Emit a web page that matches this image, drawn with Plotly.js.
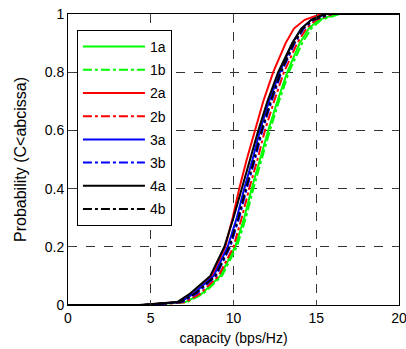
<!DOCTYPE html>
<html>
<head>
<meta charset="utf-8">
<script src="https://cdn.plot.ly/plotly-3.0.1.min.js"></script>
<style>html,body{margin:0;padding:0;background:#fff;}#chart{width:406px;height:349px;}</style>
</head>
<body>
<div id="chart"></div>
<script>
// CDF probability levels
const probLevels = [0, 0.01, 0.04, 0.1, 0.2, 0.3, 0.4, 0.5, 0.6, 0.7, 0.8, 0.9, 0.95, 0.98, 1];
// capacity (bps/Hz) at each probability level, per series
const cap1a = [4.8, 7.1, 8.1, 9.2, 10.1, 10.65, 11.1, 11.6, 12.1, 12.65, 13.25, 14.0, 14.55, 15.15, 16.2];
const cap1b = [4.7, 7.2, 8.2, 9.3, 10.2, 10.75, 11.2, 11.7, 12.2, 12.75, 13.35, 14.15, 14.7, 15.3, 16.4];
const cap2a = [4.5, 6.7, 7.6, 8.7, 9.5, 9.95, 10.35, 10.8, 11.3, 11.8, 12.4, 13.15, 13.65, 14.3, 15.3];
const cap2b = [5.0, 7.1, 8.0, 9.1, 10.0, 10.5, 10.95, 11.45, 11.9, 12.45, 13.05, 13.85, 14.4, 15.0, 16.0];
const cap3a = [4.6, 6.8, 7.6, 8.8, 9.65, 10.2, 10.65, 11.15, 11.6, 12.15, 12.8, 13.55, 14.1, 14.7, 15.6];
const cap3b = [4.6, 6.9, 7.8, 8.95, 9.8, 10.35, 10.8, 11.3, 11.75, 12.3, 12.9, 13.7, 14.25, 14.85, 15.9];
const cap4a = [4.3, 6.6, 7.4, 8.6, 9.45, 10.0, 10.5, 11.0, 11.5, 12.05, 12.7, 13.55, 14.1, 14.7, 15.5];
const cap4b = [4.5, 6.8, 7.7, 8.9, 9.75, 10.3, 10.75, 11.25, 11.7, 12.25, 12.85, 13.65, 14.2, 14.8, 15.8];
const seriesNames = ['1a', '1b', '2a', '2b', '3a', '3b', '4a', '4b'];
const xTicks = [0, 5, 10, 15, 20];
const yTicks = [0, 0.2, 0.4, 0.6, 0.8, 1];
const yTickText = ['0', '0.2', '0.4', '0.6', '0.8', '1'];

const seriesData = [cap1a, cap1b, cap2a, cap2b, cap3a, cap3b, cap4a, cap4b];
const colors = ['#00ff00', '#00ff00', '#ff0000', '#ff0000', '#0000ff', '#0000ff', '#000000', '#000000'];
const dashes = ['solid', 'dashdot', 'solid', 'dashdot', 'solid', 'dashdot', 'solid', 'dashdot'];

const traces = seriesData.map((xs, i) => ({
  x: [0].concat(xs).concat([20]),
  y: [0].concat(probLevels).concat([1]),
  type: 'scatter',
  mode: 'lines',
  name: seriesNames[i],
  legendgroup: 'g' + i,
  line: {color: colors[i], width: 2, dash: dashes[i]}
}));

const font = {family: 'Liberation Sans, Arial, sans-serif', color: '#000'};

const layout = {
  width: 406, height: 349,
  margin: {l: 68, r: 7, t: 14, b: 44},
  paper_bgcolor: '#fff', plot_bgcolor: '#fff',
  showlegend: true,
  font: Object.assign({size: 14}, font),
  xaxis: {
    range: [0, 20], tickvals: xTicks, ticks: 'inside', ticklen: 5,
    showline: true, mirror: 'ticks', linecolor: '#000', linewidth: 1,
    showgrid: true, gridcolor: '#333', griddash: 'dash', gridwidth: 1,
    zeroline: false, tickfont: Object.assign({size: 14}, font),
    ticklabeloverflow: 'allow',
    title: {text: 'capacity (bps/Hz)', font: Object.assign({size: 14}, font), standoff: 8}
  },
  yaxis: {
    range: [0, 1], tickvals: yTicks, ticktext: yTickText, ticks: 'inside', ticklen: 5,
    showline: true, mirror: 'ticks', linecolor: '#000', linewidth: 1,
    showgrid: true, gridcolor: '#333', griddash: 'dash', gridwidth: 1,
    zeroline: false, tickfont: Object.assign({size: 14}, font),
    title: {text: 'Probability (C<abcissa)', font: Object.assign({size: 16}, font), standoff: 14}
  },
  legend: {
    x: 0.027, y: 0.945, xanchor: 'left', yanchor: 'top',
    bgcolor: '#fff', bordercolor: '#000', borderwidth: 1,
    font: Object.assign({size: 14}, font),
    itemwidth: 62, tracegroupgap: 2
  }
};

Plotly.newPlot('chart', traces, layout, {displayModeBar: false, staticPlot: true});
</script>
</body>
</html>
